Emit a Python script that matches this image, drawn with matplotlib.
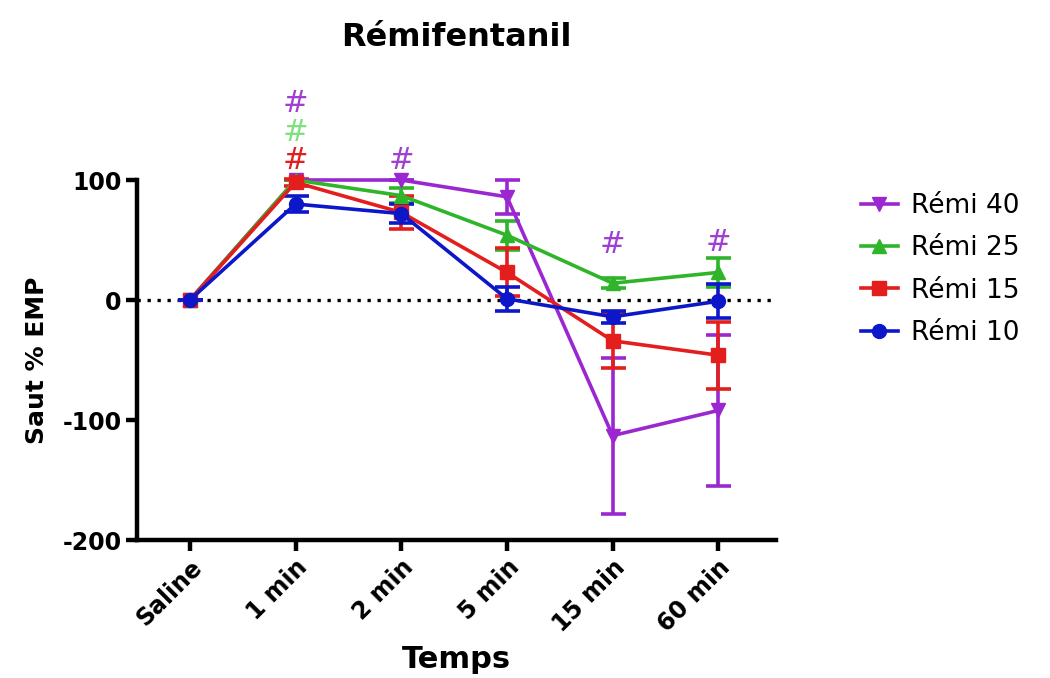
import numpy as np
import matplotlib
matplotlib.use('Agg')
import matplotlib.pyplot as plt
from matplotlib.lines import Line2D

plt.rcParams['font.family'] = ['DejaVu Sans']
plt.rcParams['axes.unicode_minus'] = False

times = ['Saline', '1 min', '2 min', '5 min', '15 min', '60 min']

remi40 = [0, 100, 100, 86, -113, -92]
remi40_sem = [0, 0, 0, 14, 65, 63]
remi25 = [0, 100, 87, 54, 14, 23]
remi25_sem = [0, 0, 6, 12, 4, 12]
remi15 = [0, 98, 73, 23, -34, -46]
remi15_sem = [0, 3, 14, 20, 23, 28]
remi10 = [0, 80, 72, 1, -14, -1]
remi10_sem = [0, 7, 8, 10, 5, 14]

# significance marks: (time index, y value, colour)
hash_marks = [(1, 116, '#e02020'), (1, 140, '#80e080'), (1, 164, '#a040d0'),
              (2, 116, '#a040d0'), (4, 46, '#a040d0'), (5, 48, '#a040d0')]

series = [
    ('Rémi 40', remi40, remi40_sem, '#9b27d0', 'v'),
    ('Rémi 25', remi25, remi25_sem, '#2fb52a', '^'),
    ('Rémi 15', remi15, remi15_sem, '#e41d1d', 's'),
    ('Rémi 10', remi10, remi10_sem, '#0c17c9', 'o'),
]

fig = plt.figure(figsize=(10.5, 6.78), dpi=100)
ax = fig.add_axes([0.1305, 0.2035, 0.609, 0.531])

x = np.arange(len(times))
ax.axhline(0, color='black', linestyle=(0, (1, 2)), linewidth=2.4, zorder=1)

handles = []
for label, vals, sem, col, mk in series:
    ax.errorbar(x, vals, yerr=sem, color=col, marker=mk, markersize=10,
                linewidth=2.6, elinewidth=2.6, capsize=9, capthick=2.6,
                clip_on=False, zorder=3)
    handles.append(Line2D([], [], color=col, marker=mk, markersize=10,
                          linewidth=2.6, label=label))

for i, yv, col in hash_marks:
    ax.text(x[i], yv, '#', color=col, fontsize=22, ha='center', va='center')

ax.set_xlim(-0.5, 5.55)
ax.set_ylim(-200, 100)
ax.set_yticks([-200, -100, 0, 100])
ax.set_xticks(x)
ax.set_xticklabels(times, rotation=45, ha='right', rotation_mode='anchor')

for s in ['top', 'right']:
    ax.spines[s].set_visible(False)
for s in ['left', 'bottom']:
    ax.spines[s].set_linewidth(3.2)
ax.tick_params(width=3.2, length=8, labelsize=17, pad=3)
for lab in ax.get_xticklabels() + ax.get_yticklabels():
    lab.set_fontweight('bold')

ax.set_ylabel('Saut % EMP', fontsize=18, fontweight='bold', labelpad=10)
ax.set_xlabel('Temps', fontsize=22, fontweight='bold', labelpad=6)
fig.text(0.435, 0.944, 'Rémifentanil', fontsize=23, fontweight='bold',
         ha='center', va='center')

ax.legend(handles=handles, loc='upper left', bbox_to_anchor=(1.095, 1.03),
          frameon=False, fontsize=19, handlelength=1.4, labelspacing=0.62,
          handletextpad=0.5)

fig.savefig('out.png', dpi=100)
